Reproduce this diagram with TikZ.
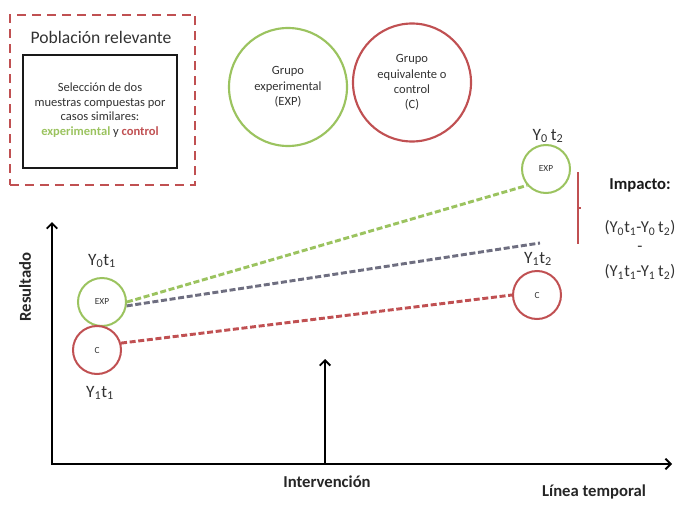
\documentclass[tikz,border=0pt]{standalone}
\usepackage{fontspec}
\setmainfont{Carlito}
\usetikzlibrary{arrows.meta}
\definecolor{exgreen}{RGB}{155,195,95}
\definecolor{ctred}{RGB}{192,80,82}
\definecolor{dgray}{RGB}{110,110,128}
\definecolor{txt}{RGB}{50,50,50}
\begin{document}
\begin{tikzpicture}[x=0.75pt,y=-0.75pt,
  bigcirc/.style={circle,draw,line width=1.6pt,minimum size=88.5pt,inner sep=0pt,align=center,
    font=\fontsize{9.4}{11.5}\selectfont,text=txt},
  smallcirc/.style={circle,draw,line width=1.5pt,minimum size=36pt,inner sep=0pt,
    font=\fontsize{7}{8}\selectfont,text=txt},
  ylab/.style={font=\fontsize{13}{15}\selectfont,text=txt,inner sep=1pt},
  blab/.style={font=\bfseries\fontsize{12.5}{14}\selectfont,text=black!85,inner sep=1pt},
  conn/.style={line width=2.2pt,dash pattern=on 4.5pt off 2pt},
  axis/.style={line width=1.8pt,black,arrows={Straight Barb[length=4pt,width=8pt,line width=1.4pt]-Straight Barb[length=4pt,width=8pt,line width=1.4pt]}},
]
\useasboundingbox (0,0) rectangle (680,506);
% Poblacion relevante
\node[draw=ctred,line width=1.5pt,dash pattern=on 6.75pt off 4.5pt,minimum width=139pt,minimum height=127.5pt,inner sep=0pt] (pob) at (102.5,100) {};
\node[font=\fontsize{13.2}{15}\selectfont,text=txt] (pobt) at (101,37) {Población relevante};
\node[draw=black!90,line width=1.5pt,minimum width=115.5pt,minimum height=84.75pt,inner sep=0pt] (sel) at (100,111.5) {};
\node[align=center,font=\fontsize{9.4}{11}\selectfont,text=txt] (selt) at (100,110)
  {Selección de dos\\muestras compuestas por\\casos similares:\\{\bfseries\color{exgreen}experimental} y {\bfseries\color{ctred}control}};
% Group circles
\node[bigcirc,draw=exgreen] (gexp) at (288,87) {Grupo\\experimental\\(EXP)};
\node[bigcirc,draw=ctred] (gc) at (412,82.5) {Grupo\\equivalente o\\control\\(C)};
% Axes
\coordinate (ytop) at (52,222);
\coordinate (origin) at (52,464);
\coordinate (xend) at (672,464);
\draw[axis] (ytop) -- (origin) -- (xend);
\coordinate (intbase) at (325,464);
\coordinate (inttop) at (325,359);
\draw[line width=1.8pt,-{Straight Barb[length=4pt,width=8pt,line width=1.4pt]}] (intbase) -- (inttop);
\node[blab,rotate=90] (res) at (25,287) {Resultado};
\node[blab] (int) at (327,482) {Intervención};
\node[blab] (lin) at (594,492) {Línea temporal};
% Small circles
\node[smallcirc,draw=exgreen] (exp1) at (102,302) {EXP};
\node[smallcirc,draw=ctred] (c1) at (97,350) {C};
\node[smallcirc,draw=exgreen] (exp2) at (546,169) {EXP};
\node[smallcirc,draw=ctred] (c2) at (537,295) {C};
% Labels
\node[ylab] (l01) at (102,261) {Y\textsubscript{0}t\textsubscript{1}};
\node[ylab] (l11) at (100,393) {Y\textsubscript{1}t\textsubscript{1}};
\node[ylab] (l02) at (548,136) {Y\textsubscript{0}\,t\textsubscript{2}};
\node[ylab] (l12) at (538,259) {Y\textsubscript{1}t\textsubscript{2}};
% Connectors
\coordinate (gend) at (540,243);
\draw[conn,exgreen] (exp1.east) -- (exp2.221);
\draw[conn,dgray] (exp1.-9) -- (gend);
\draw[conn,ctred] (c1.16) -- (c2.west);
% Impact bracket
\coordinate (bt) at (578,172);
\coordinate (bb) at (578,244);
\coordinate (bm) at (578,208);
\coordinate (bmr) at (580.5,208);
\draw[ctred,line width=1.6pt] (bt) -- (bb);
\draw[ctred,line width=1pt] (bm) -- (bmr);
\node[font=\bfseries\fontsize{12.5}{14}\selectfont,text=black!90] (imp) at (640,185) {Impacto:};
\node[ylab,font=\fontsize{12.5}{14}\selectfont] (imp1) at (640,228) {(Y\textsubscript{0}t\textsubscript{1}-Y\textsubscript{0}\,t\textsubscript{2})};
\node[ylab,font=\fontsize{12.5}{14}\selectfont] (impm) at (640,249) {-};
\node[ylab,font=\fontsize{12.5}{14}\selectfont] (imp2) at (640,272) {(Y\textsubscript{1}t\textsubscript{1}-Y\textsubscript{1}\,t\textsubscript{2})};
\end{tikzpicture}
\end{document}
